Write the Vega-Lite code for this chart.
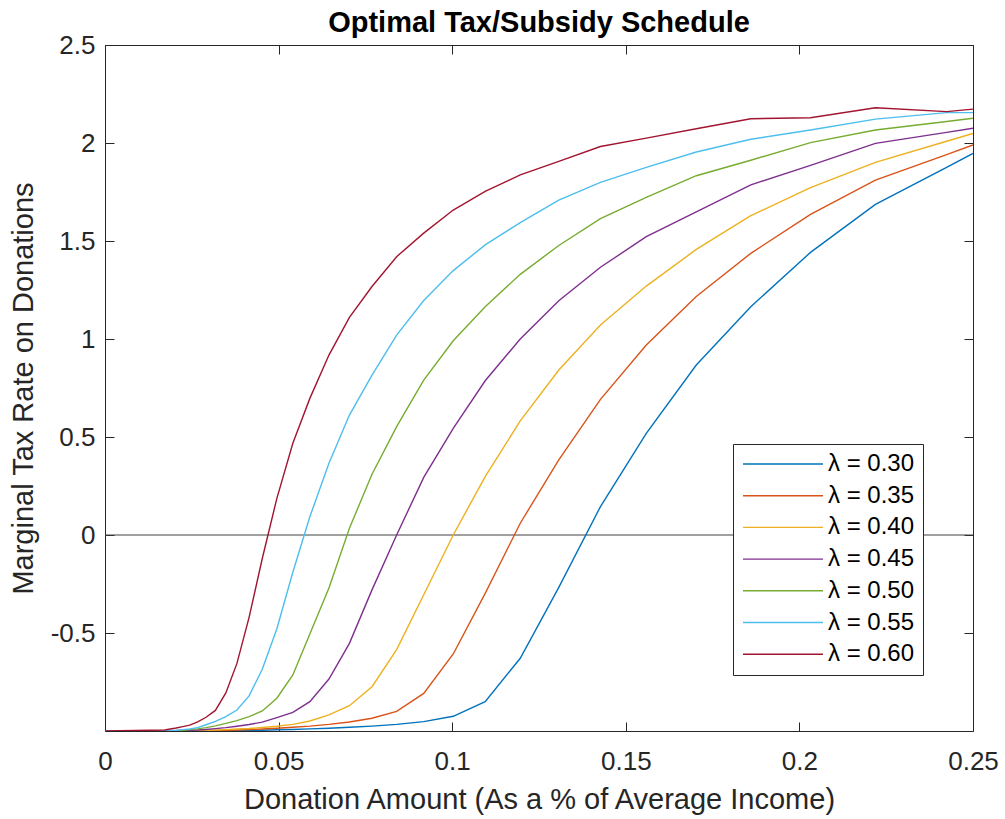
{
  "$schema": "https://vega.github.io/schema/vega-lite/v6.json",
  "width": 868,
  "height": 686,
  "autosize": {"type": "none"},
  "padding": {"left": 105, "top": 45, "right": 32, "bottom": 88},
  "background": "white",
  "title": {
    "text": "Optimal Tax/Subsidy Schedule",
    "font": "Liberation Sans",
    "fontSize": 29,
    "fontWeight": "bold",
    "color": "#000000",
    "anchor": "middle",
    "offset": -6
  },
  "config": {
    "view": {"stroke": null},
    "font": "Liberation Sans",
    "axis": {
      "grid": false,
      "domainColor": "#262626",
      "domainWidth": 1,
      "tickColor": "#262626",
      "tickWidth": 1,
      "tickSize": -9,
      "labelColor": "#262626",
      "labelFont": "Liberation Sans",
      "labelFontSize": 26,
      "labelFlush": false,
      "labelOverlap": false,
      "titleColor": "#262626",
      "titleFont": "Liberation Sans",
      "titleFontSize": 29,
      "titleFontWeight": "normal"
    }
  },
  "layer": [
    {
      "data": {"values": [{}]},
      "mark": {"type": "rule", "color": "#404040", "strokeWidth": 1},
      "encoding": {
        "y": {
          "datum": 0,
          "type": "quantitative",
          "axis": {"orient": "right", "values": [-0.5, 0, 0.5, 1, 1.5, 2, 2.5], "labels": false, "title": null}
        }
      }
    },
    {
      "data": {"values": [{}]},
      "mark": {"type": "rule", "opacity": 0},
      "encoding": {
        "x": {
          "datum": 0,
          "type": "quantitative",
          "axis": {"orient": "top", "values": [0, 0.05, 0.1, 0.15, 0.2, 0.25], "labels": false, "title": null}
        }
      }
    },
    {
      "data": {
        "values": [
          {"x": 0, "p30": -1, "p35": -1, "p40": -1, "p45": -1, "p50": -1, "p55": -1, "p60": -1},
          {"x": 0.0172, "p30": -1, "p35": -1, "p40": -1, "p45": -1, "p50": -1, "p55": -0.999, "p60": -0.995},
          {"x": 0.0188, "p30": -1, "p35": -1, "p40": -1, "p45": -1, "p50": -0.999, "p55": -0.998, "p60": -0.99},
          {"x": 0.0205, "p30": -1, "p35": -1, "p40": -1, "p45": -0.999, "p50": -0.998, "p55": -0.996, "p60": -0.985},
          {"x": 0.0224, "p30": -1, "p35": -1, "p40": -0.999, "p45": -0.998, "p50": -0.996, "p55": -0.993, "p60": -0.978},
          {"x": 0.0244, "p30": -1, "p35": -1, "p40": -0.999, "p45": -0.997, "p50": -0.993, "p55": -0.99, "p60": -0.97},
          {"x": 0.0267, "p30": -1, "p35": -0.999, "p40": -0.998, "p45": -0.995, "p50": -0.989, "p55": -0.983, "p60": -0.953},
          {"x": 0.0291, "p30": -1, "p35": -0.999, "p40": -0.997, "p45": -0.992, "p50": -0.983, "p55": -0.968, "p60": -0.93},
          {"x": 0.0318, "p30": -0.999, "p35": -0.998, "p40": -0.995, "p45": -0.988, "p50": -0.974, "p55": -0.951, "p60": -0.895},
          {"x": 0.0348, "p30": -0.999, "p35": -0.997, "p40": -0.993, "p45": -0.983, "p50": -0.961, "p55": -0.927, "p60": -0.806},
          {"x": 0.038, "p30": -0.998, "p35": -0.995, "p40": -0.99, "p45": -0.976, "p50": -0.947, "p55": -0.893, "p60": -0.655},
          {"x": 0.0415, "p30": -0.997, "p35": -0.993, "p40": -0.987, "p45": -0.967, "p50": -0.927, "p55": -0.821, "p60": -0.42},
          {"x": 0.0453, "p30": -0.996, "p35": -0.99, "p40": -0.982, "p45": -0.955, "p50": -0.898, "p55": -0.685, "p60": -0.12},
          {"x": 0.0495, "p30": -0.994, "p35": -0.986, "p40": -0.976, "p45": -0.932, "p50": -0.833, "p55": -0.478, "p60": 0.187},
          {"x": 0.0541, "p30": -0.992, "p35": -0.981, "p40": -0.966, "p45": -0.905, "p50": -0.714, "p55": -0.19, "p60": 0.468},
          {"x": 0.059, "p30": -0.989, "p35": -0.975, "p40": -0.949, "p45": -0.85, "p50": -0.505, "p55": 0.093, "p60": 0.697},
          {"x": 0.0645, "p30": -0.986, "p35": -0.966, "p40": -0.918, "p45": -0.735, "p50": -0.27, "p55": 0.366, "p60": 0.918},
          {"x": 0.0704, "p30": -0.981, "p35": -0.954, "p40": -0.871, "p45": -0.553, "p50": 0.034, "p55": 0.612, "p60": 1.11},
          {"x": 0.0769, "p30": -0.975, "p35": -0.935, "p40": -0.774, "p45": -0.28, "p50": 0.31, "p55": 0.816, "p60": 1.268},
          {"x": 0.084, "p30": -0.966, "p35": -0.9, "p40": -0.585, "p45": 0.0, "p50": 0.553, "p55": 1.02, "p60": 1.42},
          {"x": 0.0918, "p30": -0.952, "p35": -0.808, "p40": -0.305, "p45": 0.294, "p50": 0.79, "p55": 1.196, "p60": 1.54},
          {"x": 0.1003, "p30": -0.925, "p35": -0.607, "p40": 0.0, "p45": 0.544, "p50": 0.991, "p55": 1.349, "p60": 1.658},
          {"x": 0.1095, "p30": -0.85, "p35": -0.298, "p40": 0.298, "p45": 0.787, "p50": 1.165, "p55": 1.48, "p60": 1.753},
          {"x": 0.1196, "p30": -0.629, "p35": 0.06, "p40": 0.582, "p45": 1.0, "p50": 1.33, "p55": 1.594, "p60": 1.837},
          {"x": 0.1307, "p30": -0.267, "p35": 0.383, "p40": 0.842, "p45": 1.195, "p50": 1.477, "p55": 1.709, "p60": 1.906},
          {"x": 0.1427, "p30": 0.145, "p35": 0.692, "p40": 1.071, "p45": 1.366, "p50": 1.614, "p55": 1.799, "p60": 1.982},
          {"x": 0.1559, "p30": 0.519, "p35": 0.969, "p40": 1.27, "p45": 1.522, "p50": 1.723, "p55": 1.876, "p60": 2.025},
          {"x": 0.1703, "p30": 0.867, "p35": 1.217, "p40": 1.457, "p45": 1.649, "p50": 1.833, "p55": 1.954, "p60": 2.073},
          {"x": 0.186, "p30": 1.165, "p35": 1.437, "p40": 1.629, "p45": 1.786, "p50": 1.912, "p55": 2.019, "p60": 2.124},
          {"x": 0.2032, "p30": 1.442, "p35": 1.636, "p40": 1.772, "p45": 1.886, "p50": 2.002, "p55": 2.066, "p60": 2.129},
          {"x": 0.2219, "p30": 1.687, "p35": 1.811, "p40": 1.901, "p45": 1.998, "p50": 2.066, "p55": 2.122, "p60": 2.18},
          {"x": 0.2424, "p30": 1.876, "p35": 1.941, "p40": 2.009, "p45": 2.054, "p50": 2.11, "p55": 2.155, "p60": 2.16},
          {"x": 0.25, "p30": 1.947, "p35": 1.99, "p40": 2.049, "p45": 2.075, "p50": 2.126, "p55": 2.155, "p60": 2.173}
        ]
      },
      "transform": [
        {"fold": ["p30", "p35", "p40", "p45", "p50", "p55", "p60"], "as": ["lam", "rate"]}
      ],
      "mark": {"type": "line", "strokeWidth": 1.4, "clip": true},
      "encoding": {
        "x": {
          "field": "x",
          "type": "quantitative",
          "scale": {"domain": [0, 0.25], "nice": false, "zero": false},
          "axis": {
            "orient": "bottom",
            "values": [0, 0.05, 0.1, 0.15, 0.2, 0.25],
            "format": "~g",
            "title": "Donation Amount (As a % of Average Income)",
            "labelPadding": 26,
            "titlePadding": 11
          }
        },
        "y": {
          "field": "rate",
          "type": "quantitative",
          "scale": {"domain": [-1, 2.5], "nice": false, "zero": false},
          "axis": {
            "orient": "left",
            "values": [-0.5, 0, 0.5, 1, 1.5, 2, 2.5],
            "labelExpr": "replace(format(datum.value, '~g'), '\u2212', '-')",
            "title": "Marginal Tax Rate on Donations",
            "labelPadding": 19,
            "titlePadding": 12
          }
        },
        "color": {
          "field": "lam",
          "type": "nominal",
          "scale": {
            "domain": ["p30", "p35", "p40", "p45", "p50", "p55", "p60"],
            "range": ["#0072BD", "#D95319", "#EDB120", "#7E2F8E", "#77AC30", "#4DBEEE", "#A2142F"]
          },
          "legend": {
            "title": null,
            "orient": "none",
            "legendX": 628,
            "legendY": 399,
            "direction": "vertical",
            "symbolType": "M-4,0H4",
            "symbolSize": 400,
            "symbolStrokeWidth": 1.4,
            "symbolOffset": 30,
            "labelOffset": 33,
            "labelFont": "Liberation Sans",
            "labelFontSize": 24,
            "labelColor": "#000000",
            "rowPadding": 7.7,
            "padding": 8,
            "strokeColor": "#262626",
            "fillColor": "#ffffff",
            "labelExpr": "'\u03bb = 0.' + slice(datum.label, 1)"
          }
        }
      }
    }
  ],
  "resolve": {"axis": {"x": "independent", "y": "independent"}}
}
